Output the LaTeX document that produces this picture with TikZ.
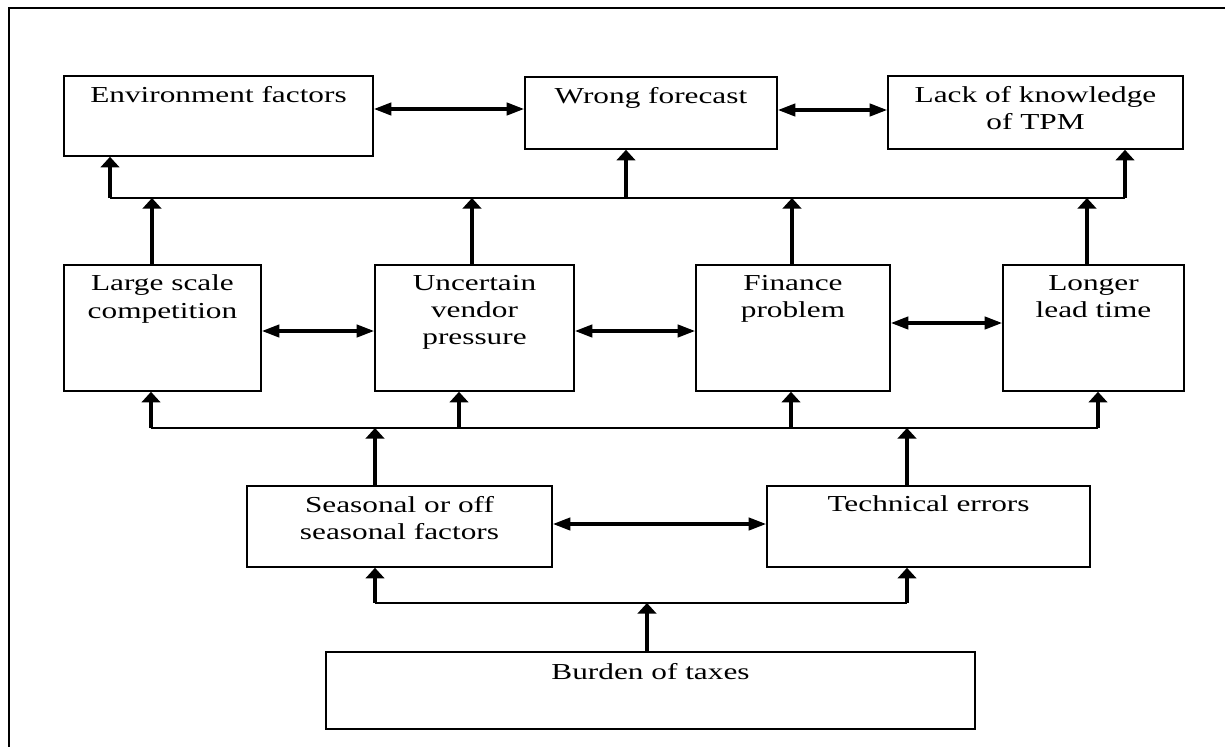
\documentclass[tikz,border=0pt]{standalone}
\usepackage{fontspec}
\setmainfont[FakeStretch=1.37]{Liberation Serif}
\usetikzlibrary{arrows.meta,positioning,fit}

\tikzset{
  blk/.style={draw, line width=0.9pt, inner sep=0pt},
  lbl/.style={inner sep=0pt, align=center, font=\fontsize{13}{15.5}\selectfont},
  uparr/.style={line width=2.3pt, -{Triangle[length=6pt,width=10.5pt]}},
  duo/.style={line width=1.9pt, {Triangle[length=10pt,width=7pt]}-{Triangle[length=10pt,width=7pt]}},
  bus/.style={line width=1.1pt}
}

\begin{document}
\begin{tikzpicture}[x=0.2mm,y=-0.2mm]
\useasboundingbox (0,0) rectangle (1225,747);

% outer frame
\draw[line width=1.2pt] (9,760) -- (9,8) -- (1240,8);

% top row
\node[blk, fit={(64,76) (373,156)}] (env) {};
\node[blk, fit={(525,77) (777,149)}] (wrong) {};
\node[blk, fit={(888,76) (1183,149)}] (lack) {};
\node[lbl, below=2.1mm of env.north] (env-t) {Environment factors};
\node[lbl, below=2.1mm of wrong.north] (wrong-t) {Wrong forecast};
\node[lbl, below=2.1mm of lack.north] (lack-t) {Lack of knowledge\\of TPM};

% middle row
\node[blk, fit={(64,265) (261,391)}] (large) {};
\node[blk, fit={(375,265) (574,391)}] (uncertain) {};
\node[blk, fit={(696,265) (890,391)}] (finance) {};
\node[blk, fit={(1003,265) (1184,391)}] (longer) {};
\node[lbl, below=2.1mm of large.north] (large-t) {Large scale\\competition};
\node[lbl, below=2.1mm of uncertain.north] (uncertain-t) {Uncertain\\vendor\\pressure};
\node[lbl, below=2.1mm of finance.north] (finance-t) {Finance\\problem};
\node[lbl, below=2.1mm of longer.north] (longer-t) {Longer\\lead time};

% third row
\node[blk, fit={(247,486) (552,567)}] (seasonal) {};
\node[blk, fit={(767,486) (1090,567)}] (technical) {};
\node[lbl, below=2.1mm of seasonal.north] (seasonal-t) {Seasonal or off\\seasonal factors};
\node[lbl, below=2.1mm of technical.north] (technical-t) {Technical errors};

% bottom
\node[blk, fit={(326,652) (975,729)}] (burden) {};
\node[lbl, below=2.3mm of burden.north] (burden-t) {Burden of taxes};

% upper bus
\coordinate (ub1) at (110,198);
\coordinate (ub2) at (626,198);
\coordinate (ub3) at (1125,198);
\coordinate (ua) at (152,198);
\coordinate (ubb) at (472,198);
\coordinate (uc) at (792,198);
\coordinate (ud) at (1087,198);
\draw[bus] (ub1) -- (ub3);
\draw[uparr] (ub1) -- (ub1 |- env.south);
\draw[uparr] (ub2) -- (ub2 |- wrong.south);
\draw[uparr] (ub3) -- (ub3 |- lack.south);
\draw[uparr] (ua |- large.north) -- (ua);
\draw[uparr] (ubb |- uncertain.north) -- (ubb);
\draw[uparr] (uc |- finance.north) -- (uc);
\draw[uparr] (ud |- longer.north) -- (ud);

% lower bus
\coordinate (lb1) at (151,428);
\coordinate (lb2) at (459,428);
\coordinate (lb3) at (791,428);
\coordinate (lb4) at (1098,428);
\coordinate (ls) at (375,428);
\coordinate (lt) at (907,428);
\draw[bus] (lb1) -- (lb4);
\draw[uparr] (lb1) -- (lb1 |- large.south);
\draw[uparr] (lb2) -- (lb2 |- uncertain.south);
\draw[uparr] (lb3) -- (lb3 |- finance.south);
\draw[uparr] (lb4) -- (lb4 |- longer.south);
\draw[uparr] (ls |- seasonal.north) -- (ls);
\draw[uparr] (lt |- technical.north) -- (lt);

% bottom bus
\coordinate (bb1) at (375,603);
\coordinate (bb2) at (907,603);
\coordinate (bc) at (647,603);
\draw[bus] (bb1) -- (bb2);
\draw[uparr] (bb1) -- (bb1 |- seasonal.south);
\draw[uparr] (bb2) -- (bb2 |- technical.south);
\draw[uparr] (bc |- burden.north) -- (bc);

% two-way links
\draw[duo] (env.east |- 0,109) -- (wrong.west |- 0,109);
\draw[duo] (wrong.east |- 0,110) -- (lack.west |- 0,110);
\draw[duo] (large.east |- 0,331) -- (uncertain.west |- 0,331);
\draw[duo] (uncertain.east |- 0,331) -- (finance.west |- 0,331);
\draw[duo] (finance.east |- 0,323) -- (longer.west |- 0,323);
\draw[duo] (seasonal.east |- 0,524) -- (technical.west |- 0,524);

\end{tikzpicture}
\end{document}
